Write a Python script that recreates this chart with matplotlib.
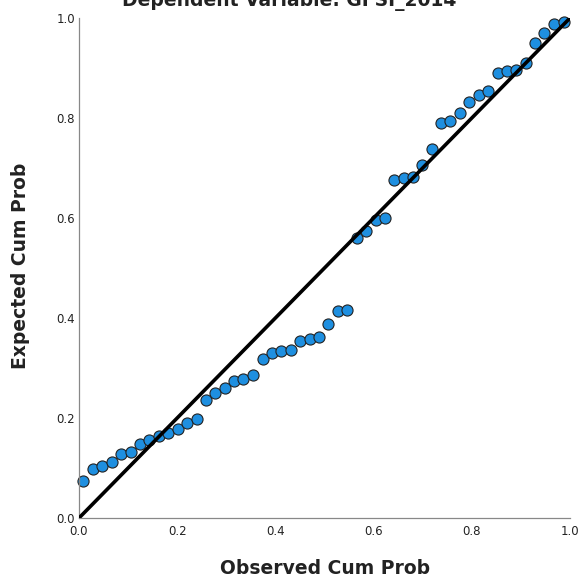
import matplotlib.pyplot as plt
import numpy as np

# Observed vs expected cumulative probabilities
observed = [
    0.009, 0.028, 0.047, 0.067, 0.086, 0.105, 0.124, 0.143, 0.162, 0.182,
    0.201, 0.220, 0.240, 0.259, 0.278, 0.297, 0.316, 0.335, 0.355, 0.374,
    0.393, 0.412, 0.431, 0.451, 0.470, 0.489, 0.508, 0.527, 0.546, 0.566,
    0.585, 0.604, 0.623, 0.642, 0.661, 0.681, 0.699, 0.718, 0.737, 0.756,
    0.776, 0.795, 0.815, 0.834, 0.853, 0.872, 0.891, 0.910, 0.929, 0.948,
    0.968, 0.987,
]
expected = [
    0.074, 0.098, 0.104, 0.113, 0.129, 0.133, 0.148, 0.156, 0.164, 0.171,
    0.178, 0.191, 0.198, 0.236, 0.251, 0.261, 0.275, 0.279, 0.287, 0.318,
    0.331, 0.334, 0.336, 0.354, 0.359, 0.363, 0.389, 0.414, 0.416, 0.561,
    0.575, 0.597, 0.601, 0.677, 0.681, 0.683, 0.706, 0.739, 0.791, 0.794,
    0.811, 0.832, 0.847, 0.855, 0.891, 0.895, 0.896, 0.911, 0.951, 0.971,
    0.988, 0.993,
]
ticks = [0.0, 0.2, 0.4, 0.6, 0.8, 1.0]
tick_labels = ["0.0", "0.2", "0.4", "0.6", "0.8", "1.0"]

fig = plt.figure(figsize=(5.79, 5.81), dpi=100)
ax = fig.add_axes([79 / 579, 63 / 581, 491 / 579, 500 / 581])

ax.scatter(observed, expected, s=64, color="#1e8fe0", edgecolor="#222222",
           linewidth=0.8, zorder=2, clip_on=False)
ax.plot([0, 1], [0, 1], color="black", linewidth=2.6, zorder=3,
        solid_capstyle="butt")

ax.set_xlim(0, 1)
ax.set_ylim(0, 1)
ax.set_xticks(ticks, tick_labels)
ax.set_yticks(ticks, tick_labels)
ax.tick_params(length=0, labelsize=8.5, colors="#222222")
ax.tick_params(axis="x", pad=5)
ax.tick_params(axis="y", pad=3)

for side in ("top", "right"):
    ax.spines[side].set_visible(False)
for side in ("left", "bottom"):
    ax.spines[side].set_color("#888888")
    ax.spines[side].set_linewidth(0.9)

fig.text(0.5, 1 - 6 / 581, "Dependent Variable: GFSI_2014", ha="center",
         va="baseline", fontsize=13.5, fontweight="bold", color="#222222")
fig.text(325 / 579, 1 - 568 / 581, "Observed Cum Prob", ha="center",
         va="center", fontsize=13.5, fontweight="bold", color="#222222")
fig.text(21 / 579, 1 - 266 / 581, "Expected Cum Prob", ha="center",
         va="center", rotation=90, fontsize=13.5, fontweight="bold",
         color="#222222")

fig.savefig("out.png", dpi=100)
